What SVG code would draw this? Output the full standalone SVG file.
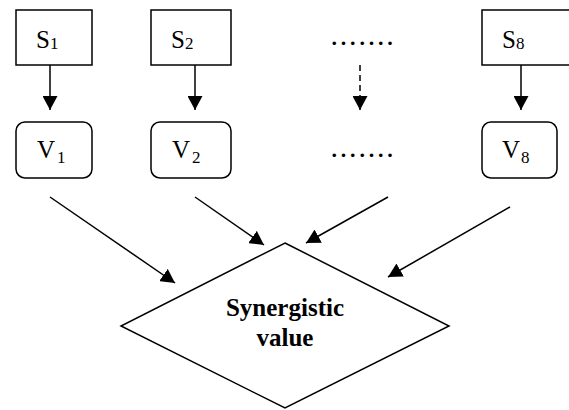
<svg xmlns="http://www.w3.org/2000/svg" width="569" height="410" viewBox="0 0 569 410">
<style>
.box{fill:#fff;stroke:#000;stroke-width:1.5}
.ln{fill:none;stroke:#000;stroke-width:1.5}
.t{font-family:"Liberation Serif","Times New Roman",serif;font-size:25px;fill:#000}
.sub{font-size:17px}
.dots{font-family:"Liberation Serif","Times New Roman",serif;font-size:30px;letter-spacing:1.8px;fill:#000}
.b{font-family:"Liberation Serif","Times New Roman",serif;font-size:25px;font-weight:bold;fill:#000}
</style>
<defs>
<marker id="ah" markerUnits="userSpaceOnUse" markerWidth="15" markerHeight="15" refX="14" refY="7.5" orient="auto">
<path d="M0,0 L14,7.5 L0,15 z" fill="#000"/>
</marker>
</defs>
<rect width="569" height="410" fill="#fff"/>
<g id="S1"><rect class="box" x="16" y="10" width="76" height="55"/><text class="t" x="36" y="48">S<tspan class="sub" dy="1">1</tspan></text></g>
<g id="S2"><rect class="box" x="151" y="10" width="80" height="55"/><text class="t" x="171" y="48">S<tspan class="sub" dy="1">2</tspan></text></g>
<g id="Sdots"><text class="dots" x="330.5" y="44.7">.......</text></g>
<g id="S8"><rect class="box" x="482" y="10" width="92" height="55"/><text class="t" x="502" y="48">S<tspan class="sub" dy="1">8</tspan></text></g>
<g id="V1"><rect class="box" x="16" y="122" width="76" height="56" rx="9"/><text class="t" x="37" y="158">V<tspan class="sub" dx="2" dy="5">1</tspan></text></g>
<g id="V2"><rect class="box" x="151" y="122" width="80" height="56" rx="9"/><text class="t" x="172" y="158">V<tspan class="sub" dx="2" dy="5">2</tspan></text></g>
<g id="Vdots"><text class="dots" x="330.5" y="156.7">.......</text></g>
<g id="V8"><rect class="box" x="482" y="122" width="75" height="56" rx="9"/><text class="t" x="502" y="158">V<tspan class="sub" dx="1" dy="5">8</tspan></text></g>
<g id="SV"><polygon class="box" points="285,243 449,326 285,408 121,326"/>
<text class="b" x="285" y="316" text-anchor="middle">Synergistic</text>
<text class="b" x="285" y="346" text-anchor="middle">value</text></g>
<g id="connectors">
<line class="ln" x1="50" y1="65" x2="50" y2="110" marker-end="url(#ah)"/>
<line class="ln" x1="195" y1="65" x2="195" y2="110" marker-end="url(#ah)"/>
<line class="ln" x1="360" y1="65" x2="360" y2="110" stroke-dasharray="6,4" marker-end="url(#ah)"/>
<line class="ln" x1="521" y1="65" x2="521" y2="110" marker-end="url(#ah)"/>
<line class="ln" x1="50" y1="197" x2="175" y2="283" marker-end="url(#ah)"/>
<line class="ln" x1="195" y1="197" x2="264" y2="245" marker-end="url(#ah)"/>
<line class="ln" x1="388" y1="197" x2="306" y2="243" marker-end="url(#ah)"/>
<line class="ln" x1="510" y1="207" x2="388" y2="277" marker-end="url(#ah)"/>
</g>
</svg>
